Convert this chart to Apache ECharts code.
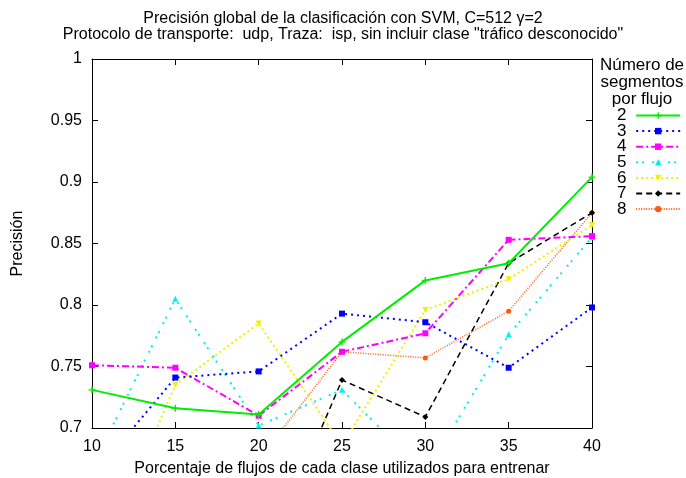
<!DOCTYPE html>
<html>
<head>
<meta charset="utf-8">
<script src="https://cdn.jsdelivr.net/npm/echarts@6/dist/echarts.min.js"></script>
<style>
  html, body { margin: 0; padding: 0; background: #fff; }
  #chart { width: 686px; height: 478px; }
</style>
</head>
<body>
<div id="chart"></div>
<script>
// Percentage of flows per class used for training
const porcentajes = [10, 15, 20, 25, 30, 35, 40];

// Global precision for each number of segments per flow
const seg2 = [0.731, 0.716, 0.711, 0.770, 0.820, 0.834, 0.904];
const seg3 = [0.660, 0.741, 0.746, 0.793, 0.786, 0.749, 0.798];
const seg4 = [0.751, 0.749, 0.710, 0.762, 0.777, 0.853, 0.856];
const seg5 = [0.668, 0.805, 0.702, 0.731, 0.663, 0.776, 0.855];
const seg6 = [0.578, 0.735, 0.785, 0.686, 0.796, 0.821, 0.865];
const seg7 = [null, null, 0.581, 0.739, 0.709, 0.834, 0.875];
const seg8 = [null, null, 0.674, 0.762, 0.757, 0.795, 0.875];

const nombres = ['2', '3', '4', '5', '6', '7', '8'];
const valores = [seg2, seg3, seg4, seg5, seg6, seg7, seg8];

const FONT = '"Liberation Sans", Arial, sans-serif';

const estilos = [
  { color: '#00ee00', width: 2,   type: 'solid',       symbol: 'path://M4,0h2v4h4v2h-4v4h-2v-4h-4v-2h4z', size: 7, rotate: 0 },
  { color: '#0000ff', width: 2,   type: [2, 4],        symbol: 'rect',     size: 6, rotate: 0 },
  { color: '#ff00ff', width: 2,   type: [7, 3, 2, 3],  symbol: 'rect',     size: 6, rotate: 0 },
  { color: '#00f0f0', width: 2,   type: [2, 4, 2, 8],  symbol: 'triangle', size: 6, rotate: 0 },
  { color: '#f0f000', width: 2,   type: [2, 3],        symbol: 'triangle', size: 6, rotate: 180 },
  { color: '#000000', width: 1.5, type: [6, 4],        symbol: 'diamond',  size: 6, rotate: 0 },
  { color: '#ff5a10', width: 1.5, type: [1, 1.5],      symbol: 'circle',   size: 5, rotate: 0 }
];

const series = nombres.map((n, i) => ({
  name: n,
  type: 'line',
  data: porcentajes.map((x, j) => [x, valores[i][j]]),
  connectNulls: false,
  clip: true,
  symbol: estilos[i].symbol,
  symbolSize: estilos[i].size,
  symbolRotate: estilos[i].rotate,
  showAllSymbol: true,
  color: estilos[i].color,
  itemStyle: { color: estilos[i].color },
  lineStyle: { color: estilos[i].color, width: estilos[i].width, type: estilos[i].type },
  emphasis: { disabled: true },
  animation: false,
  z: 10 - i
}));

const chart = echarts.init(document.getElementById('chart'), null, { renderer: 'canvas' });

const ejeBase = {
  axisLine: { show: true, onZero: false, lineStyle: { color: '#000', width: 1 } },
  axisTick: { show: true, inside: true, length: 6, lineStyle: { color: '#000' } },
  splitLine: { show: false }
};

chart.setOption({
  animation: false,
  backgroundColor: '#fff',
  textStyle: { fontFamily: FONT },
  title: {
    text: 'Precisión global de la clasificación con SVM, C=512 γ=2\nProtocolo de transporte:  udp, Traza:  isp, sin incluir clase "tráfico desconocido"',
    left: 338, top: 6, textAlign: 'center',
    textStyle: { fontFamily: FONT, fontSize: 16, fontWeight: 'normal', color: '#000', lineHeight: 16 }
  },
  graphic: [
    {
      type: 'text', x: 642, y: 57, silent: true,
      style: {
        text: 'Número de\nsegmentos\npor flujo',
        textAlign: 'center', textVerticalAlign: 'top',
        font: '17px ' + FONT, lineHeight: 17, fill: '#000'
      }
    }
  ],
  legend: {
    orient: 'vertical',
    left: 612, top: 102,
    align: 'right',
    itemWidth: 44, itemHeight: 8, itemGap: -1.4,
    data: nombres,
    formatter: (nombre) => nombre + ' ',
    textStyle: { fontFamily: FONT, fontSize: 17, color: '#000' },
    selectedMode: false
  },
  grid: { left: 92, right: 94, top: 59, bottom: 50, outerBoundsMode: 'none' },
  xAxis: [
    Object.assign({}, ejeBase, {
      type: 'value', min: 10, max: 40, interval: 5,
      name: 'Porcentaje de flujos de cada clase utilizados para entrenar',
      nameLocation: 'middle', nameGap: 33,
      nameTextStyle: { fontFamily: FONT, fontSize: 16, color: '#000' },
      axisLabel: { fontFamily: FONT, fontSize: 16, color: '#000', margin: 11 }
    }),
    Object.assign({}, ejeBase, {
      type: 'value', min: 10, max: 40, interval: 5, position: 'top',
      axisLabel: { show: false }
    })
  ],
  yAxis: [
    Object.assign({}, ejeBase, {
      type: 'value', min: 0.7, max: 1, interval: 0.05,
      name: 'Precisión',
      nameLocation: 'middle', nameGap: 66,
      nameTextStyle: { fontFamily: FONT, fontSize: 16, color: '#000' },
      axisLabel: { fontFamily: FONT, fontSize: 16, color: '#000', margin: 10 }
    }),
    Object.assign({}, ejeBase, {
      type: 'value', min: 0.7, max: 1, interval: 0.05, position: 'right',
      axisLabel: { show: false }
    })
  ],
  series: series
});
</script>
</body>
</html>
